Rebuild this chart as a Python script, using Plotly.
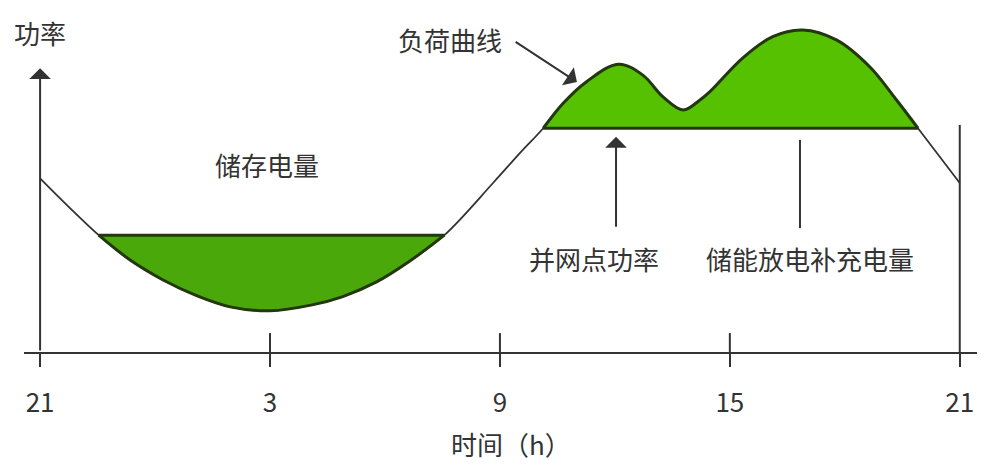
import plotly.graph_objects as go

# hours elapsed since 21:00 and schematic load power (arbitrary units, 0-100)
hours = [0.0, 0.74, 1.53, 2.35, 3.21, 4.10, 4.96, 6.00, 7.10, 7.90, 8.78, 9.65, 10.55,
         11.82, 12.52, 13.13, 13.65, 14.26, 15.09, 15.73, 16.25, 16.78, 17.22,
         17.48, 18.34, 19.12, 19.90, 20.78, 21.65, 22.35, 22.91, 24.0]
power = [52.3, 43.8, 35.2, 27.7, 21.7, 16.9, 13.6, 12.4, 14.2, 16.7, 21.1, 27.4, 35.2,
         50.9, 59.9, 67.4, 74.9, 81.4, 86.7, 83.4, 76.9, 72.9, 75.9,
         78.4, 88.6, 95.0, 97.0, 94.0, 85.9, 75.9, 67.4, 50.9]

tick_hours = [0, 6, 12, 18, 24]
tick_labels = ["21", "3", "9", "15", "21"]

charge_level = 35.2      # storage charging below this line
charge_span = [1.53, 10.55]
grid_limit = 67.4        # grid connection power
discharge_span = [13.13, 22.91]

INK = "#333333"
EDGE = "#24380f"
FONT = "Noto Sans CJK SC"
FS = 26

fig = go.Figure()

def segment(lo, hi):
    xs = [h for h in hours if lo <= h <= hi]
    ys = [p for h, p in zip(hours, power) if lo <= h <= hi]
    return xs, ys

# filled areas
bx, by = segment(*charge_span)
fig.add_trace(go.Scatter(x=bx, y=by, mode="lines", line=dict(shape="spline", width=0),
                         fill="toself", fillcolor="#4ba80a", hoverinfo="skip"))
tx, ty = segment(*discharge_span)
fig.add_trace(go.Scatter(x=tx, y=ty, mode="lines", line=dict(shape="spline", width=0),
                         fill="toself", fillcolor="#55c100", hoverinfo="skip"))

# full load curve (thin)
fig.add_trace(go.Scatter(x=hours, y=power, mode="lines",
                         line=dict(shape="spline", color=INK, width=1.8), hoverinfo="skip"))

# thick outlines of the filled areas
for xs, ys, lvl in [(bx, by, charge_level), (tx, ty, grid_limit)]:
    fig.add_trace(go.Scatter(x=xs, y=ys, mode="lines",
                             line=dict(shape="spline", color=EDGE, width=3), hoverinfo="skip"))
    fig.add_trace(go.Scatter(x=[xs[0], xs[-1]], y=[lvl, lvl], mode="lines",
                             line=dict(color=EDGE, width=3), hoverinfo="skip"))

# upward parts of the tick marks and right border line
tick_up = [5.7, 5.7, 5.7]
for h, top in zip(tick_hours[1:4], tick_up):
    fig.add_trace(go.Scatter(x=[h, h], y=[0, top], mode="lines",
                             line=dict(color=INK, width=2), hoverinfo="skip"))
fig.add_trace(go.Scatter(x=[24, 24], y=[0, 68.4], mode="lines",
                         line=dict(color=INK, width=2), hoverinfo="skip"))

# pointer line for discharge label
fig.add_trace(go.Scatter(x=[19.83, 19.83], y=[37.3, 63.9], mode="lines",
                         line=dict(color=INK, width=2), hoverinfo="skip"))

anns = []
# arrows
for (x, y, ax, ay) in [(0, 85.5, 0, 0), (15.03, 64.8, 15.03, 37.3), (14.01, 81.3, 12.37, 93.7)]:
    anns.append(dict(x=x, y=y, ax=ax, ay=ay, xref="x", yref="y", axref="x", ayref="y",
                     text="", showarrow=True, arrowhead=1, arrowsize=1.8, arrowwidth=2,
                     arrowcolor=INK))
# texts
for (x, y, s) in [(0, 96.1, "功率"), (5.92, 56.6, "储存电量"), (10.7, 94.0, "负荷曲线"),
                  (14.45, 28.3, "并网点功率"), (20.1, 28.3, "储能放电补充电量")]:
    anns.append(dict(x=x, y=y, xref="x", yref="y", text=s, showarrow=False,
                     font=dict(family=FONT, size=FS, color=INK)))
anns.append(dict(x=0.511, y=-0.277, xref="paper", yref="paper", text="时间（h）",
                 showarrow=False, yanchor="middle",
                 font=dict(family=FONT, size=FS, color=INK)))

# page body has an 8px default margin; size the figure to fill the rest of the window
fig.update_layout(
    width=983, height=466,
    margin=dict(l=16, r=14, t=12, b=122),
    paper_bgcolor="white", plot_bgcolor="white",
    showlegend=False,
    annotations=anns,
    xaxis=dict(range=[-0.42, 24.45], tickvals=tick_hours, ticktext=tick_labels,
               ticks="outside", ticklen=13, tickwidth=2, tickcolor=INK,
               showline=True, linecolor=INK, linewidth=2,
               showgrid=False, zeroline=False, ticklabelstandoff=14,
               tickfont=dict(family=FONT, size=FS, color=INK)),
    yaxis=dict(range=[0, 100], visible=False, showgrid=False, zeroline=False),
)

fig.write_html("out.html")
